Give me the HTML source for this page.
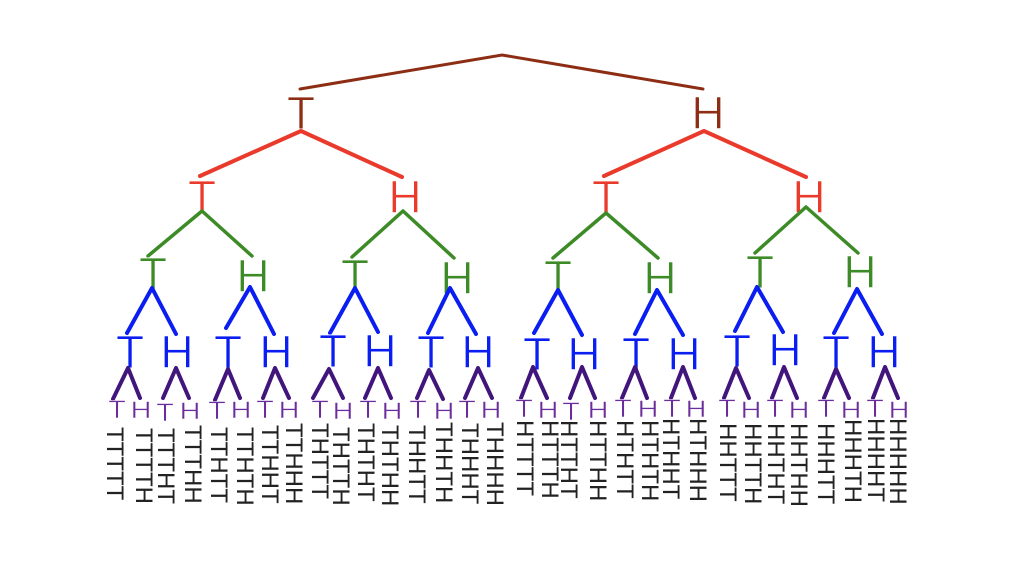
<!DOCTYPE html>
<html>
<head>
<meta charset="utf-8">
<style>
  html,body{margin:0;padding:0;background:#fff;}
  svg{display:block;}
  text{font-family:"Liberation Sans","DejaVu Sans",sans-serif;}
  .big{font-size:46px;text-anchor:middle;stroke:#fff;stroke-width:0.9px;}
  .sm{font-size:24px;text-anchor:middle;fill:#6b2d9c;stroke:#fff;stroke-width:0.5px;}
  .lab{font-size:24px;fill:#222;}
</style>
</head>
<body>
<svg width="1020" height="578" viewBox="0 0 1020 578" xmlns="http://www.w3.org/2000/svg">
  <rect width="1020" height="578" fill="#fff"/>

  <!-- root -->
  <g stroke="#8c2d14" stroke-width="3" fill="none" stroke-linecap="round">
    <polyline points="300,89 502,55 703,89"/>
  </g>
  <g fill="#8c2d14">
    <text x="301" y="129" class="big">T</text>
    <text x="708" y="129" class="big">H</text>
  </g>

  <!-- level 1 connectors (red) -->
  <g stroke="#e93a2b" stroke-width="4" fill="none" stroke-linecap="round" stroke-linejoin="round">
    <polyline points="200,176 301,131 402,177"/>
    <polyline points="604,176 704,131 806,177"/>
  </g>
  <g fill="#e93a2b">
    <text x="202" y="213" class="big">T</text>
    <text x="405" y="213" class="big">H</text>
    <text x="606" y="213" class="big">T</text>
    <text x="809" y="213" class="big">H</text>
  </g>

  <!-- level 2 connectors (green) -->
  <g stroke="#3d8b27" stroke-width="3.5" fill="none" stroke-linecap="round" stroke-linejoin="round">
    <polyline points="148,256 202,211 252,256"/>
    <polyline points="352,257 403,211 454,258"/>
    <polyline points="553,258 606,213 658,258"/>
    <polyline points="755,253 806,207 858,253"/>
  </g>
  <g fill="#3d8b27">
    <text x="153" y="290" class="big">T</text>
    <text x="253" y="292" class="big">H</text>
    <text x="355" y="292" class="big">T</text>
    <text x="457" y="294" class="big">H</text>
    <text x="558" y="293" class="big">T</text>
    <text x="660" y="294" class="big">H</text>
    <text x="760" y="288" class="big">T</text>
    <text x="860" y="288" class="big">H</text>
  </g>

  <!-- level 3 connectors (blue) -->
  <g stroke="#0a1ef2" stroke-width="4" fill="none" stroke-linecap="round" stroke-linejoin="round">
    <polyline points="127,333 152,288 176,334"/>
    <polyline points="226,328 250,287 274,334"/>
    <polyline points="330,333 355,288 378,332"/>
    <polyline points="428,333 450,288 476,334"/>
    <polyline points="534,333 558,290 582,335"/>
    <polyline points="635,334 657,290 683,335"/>
    <polyline points="735,331 757,287 783,332"/>
    <polyline points="834,333 857,289 882,334"/>
  </g>
  <g fill="#0a1ef2">
    <text x="130" y="368" class="big">T</text>
    <text x="177" y="368" class="big">H</text>
    <text x="228" y="368" class="big">T</text>
    <text x="276" y="368" class="big">H</text>
    <text x="333" y="367" class="big">T</text>
    <text x="380" y="367" class="big">H</text>
    <text x="431" y="368" class="big">T</text>
    <text x="478" y="368" class="big">H</text>
    <text x="537" y="370" class="big">T</text>
    <text x="584" y="370" class="big">H</text>
    <text x="636" y="370" class="big">T</text>
    <text x="684" y="370" class="big">H</text>
    <text x="737" y="367" class="big">T</text>
    <text x="785" y="366" class="big">H</text>
    <text x="836" y="368" class="big">T</text>
    <text x="884" y="368" class="big">H</text>
  </g>

  <!-- level 4 connectors (indigo) -->
  <g stroke="#42157c" stroke-width="4" fill="none" stroke-linecap="round" stroke-linejoin="round">
    <polyline points="113,399 128,368 140,398"/>
    <polyline points="163,398 176,368 189,398"/>
    <polyline points="215,400 228,369 240,398"/>
    <polyline points="263,398 275,368 289,398"/>
    <polyline points="313,398 329,369 343,398"/>
    <polyline points="365,398 378,368 391,398"/>
    <polyline points="417,398 429,370 443,399"/>
    <polyline points="465,398 478,368 492,398"/>
    <polyline points="521,398 533,367 547,398"/>
    <polyline points="570,398 582,367 595,398"/>
    <polyline points="622,398 635,367 647,398"/>
    <polyline points="671,398 683,367 695,398"/>
    <polyline points="724,398 736,368 749,398"/>
    <polyline points="772,398 784,367 797,398"/>
    <polyline points="824,398 836,369 849,398"/>
    <polyline points="873,398 885,367 898,398"/>
  </g>

  <!-- level 5 letters (purple, small) -->
  <g class="sm">
    <text transform="translate(117,418) scale(1.2,1.05)">T</text>
    <text transform="translate(141,418) scale(1.2,1)">H</text>
    <text transform="translate(165,421) scale(1.2,1.05)">T</text>
    <text transform="translate(190,419) scale(1.2,1)">H</text>
    <text transform="translate(217,419) scale(1.2,1.05)">T</text>
    <text transform="translate(241,418) scale(1.2,1)">H</text>
    <text transform="translate(265,418) scale(1.2,1.05)">T</text>
    <text transform="translate(289,418) scale(1.2,1)">H</text>
    <text transform="translate(320,418) scale(1.2,1.05)">T</text>
    <text transform="translate(343,419) scale(1.2,1)">H</text>
    <text transform="translate(368,418) scale(1.2,1.05)">T</text>
    <text transform="translate(392,419) scale(1.2,1)">H</text>
    <text transform="translate(418,418) scale(1.2,1.05)">T</text>
    <text transform="translate(444,419) scale(1.2,1)">H</text>
    <text transform="translate(467,418) scale(1.2,1.05)">T</text>
    <text transform="translate(491,418) scale(1.2,1)">H</text>
    <text transform="translate(524,417) scale(1.2,1.05)">T</text>
    <text transform="translate(548,418) scale(1.2,1)">H</text>
    <text transform="translate(571,420) scale(1.2,1.05)">T</text>
    <text transform="translate(598,418) scale(1.2,1)">H</text>
    <text transform="translate(623,417) scale(1.2,1.05)">T</text>
    <text transform="translate(648,417) scale(1.2,1)">H</text>
    <text transform="translate(672,417) scale(1.2,1.05)">T</text>
    <text transform="translate(696,417) scale(1.2,1)">H</text>
    <text transform="translate(727,417) scale(1.2,1.05)">T</text>
    <text transform="translate(751,418) scale(1.2,1)">H</text>
    <text transform="translate(775,417) scale(1.2,1.05)">T</text>
    <text transform="translate(799,418) scale(1.2,1)">H</text>
    <text transform="translate(826,417) scale(1.2,1.05)">T</text>
    <text transform="translate(851,418) scale(1.2,1)">H</text>
    <text transform="translate(875,417) scale(1.2,1.05)">T</text>
    <text transform="translate(899,418) scale(1.2,1)">H</text>
  </g>

  <!-- outcome labels (rotated) -->
  <g class="lab">
    <text transform="translate(107,427) rotate(90)">TTTTT</text>
    <text transform="translate(136,428) rotate(90)">TTTTH</text>
    <text transform="translate(158,428) rotate(90)">TTTHT</text>
    <text transform="translate(185,425) rotate(90)">TTTHH</text>
    <text transform="translate(211,427) rotate(90)">TTHTT</text>
    <text transform="translate(237,427) rotate(90)">TTHTH</text>
    <text transform="translate(262,425) rotate(90)">TTHHT</text>
    <text transform="translate(286,423) rotate(90)">TTHHH</text>
    <text transform="translate(312,423) rotate(90)">THTTT</text>
    <text transform="translate(333,427) rotate(90)">THTTH</text>
    <text transform="translate(358,423) rotate(90)">THTHT</text>
    <text transform="translate(382,425) rotate(90)">THTHH</text>
    <text transform="translate(409,425) rotate(90)">THHTT</text>
    <text transform="translate(436,422) rotate(90)">THHTH</text>
    <text transform="translate(462,423) rotate(90)">THHHT</text>
    <text transform="translate(487,422) rotate(90)">THHHH</text>
    <text transform="translate(517,420) rotate(90)">HTTTT</text>
    <text transform="translate(542,420) rotate(90)">HTTTH</text>
    <text transform="translate(561,420) rotate(90)">HTTHT</text>
    <text transform="translate(590,420) rotate(90)">HTTHH</text>
    <text transform="translate(617,420) rotate(90)">HTHTT</text>
    <text transform="translate(642,420) rotate(90)">HTHTH</text>
    <text transform="translate(663,418) rotate(90)">HTHHT</text>
    <text transform="translate(690,418) rotate(90)">HTHHH</text>
    <text transform="translate(720,423) rotate(90)">HHTTT</text>
    <text transform="translate(745,423) rotate(90)">HHTTH</text>
    <text transform="translate(768,423) rotate(90)">HHTHT</text>
    <text transform="translate(791,423) rotate(90)">HHTHH</text>
    <text transform="translate(818,423) rotate(90)">HHHTT</text>
    <text transform="translate(845,419) rotate(90)">HHHTH</text>
    <text transform="translate(868,418) rotate(90)">HHHHT</text>
    <text transform="translate(890,418) rotate(90)">HHHHH</text>
  </g>
</svg>
</body>
</html>
